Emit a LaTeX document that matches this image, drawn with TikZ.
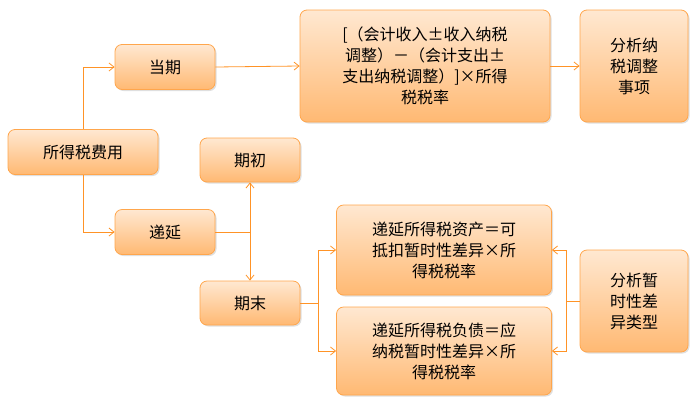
\documentclass[tikz,border=0pt]{standalone}
\usepackage{fontspec}
\newfontfamily\cjk{Noto Sans CJK SC}
\usetikzlibrary{arrows.meta,shadows}
\begin{document}
\begin{tikzpicture}[x=1pt,y=-1pt,
 box/.style={draw=orange!70!white,line width=0.8pt,rounded corners=7pt,top color=orange!18,bottom color=orange!55,
   drop shadow={shadow xshift=1.5pt,shadow yshift=-1.5pt,opacity=0.25},
   font=\cjk\fontsize{16}{21}\selectfont,align=center,inner sep=0pt},
 con/.style={draw=orange!85!white,line width=0.8pt},
 arr/.style={con,-{Straight Barb[length=5pt,width=8pt]}}]
\useasboundingbox (0,0) rectangle (700,405);
\node[box,minimum width=150,minimum height=45] (tax) at (83,152) {所得税费用};
\node[box,minimum width=100,minimum height=45] (cur) at (165,67) {当期};
\node[box,minimum width=100,minimum height=45] (def) at (165,232) {递延};
\node[box,minimum width=250,minimum height=112] (form) at (425,66) {[（会计收入±收入纳税\\调整）－（会计支出±\\支出纳税调整）]×所得\\税税率};
\node[box,minimum width=108,minimum height=112] (ana1) at (634,66) {分析纳\\税调整\\事项};
\node[box,minimum width=100,minimum height=44] (beg) at (250,160) {期初};
\node[box,minimum width=100,minimum height=44] (end) at (250,303) {期末};
\node[box,minimum width=215,minimum height=90] (dta) at (444,250) {递延所得税资产＝可\\抵扣暂时性差异×所\\得税税率};
\node[box,minimum width=215,minimum height=88] (dtl) at (444,351) {递延所得税负债＝应\\纳税暂时性差异×所\\得税税率};
\node[box,minimum width=108,minimum height=102] (ana2) at (634,301) {分析暂\\时性差\\异类型};
\draw[arr] (tax.north) |- (cur.west);
\draw[arr] (tax.south) |- (def.west);
\draw[arr] (cur.east) -- (form.west);
\draw[arr] (form.east) -- (ana1.west);
\coordinate (j1) at (250,232);
\draw[con] (def.east) -- (j1);
\draw[arr] (j1) -- (beg.south);
\draw[arr] (j1) -- (end.north);
\coordinate (j2) at (318,303);
\draw[con] (end.east) -- (j2);
\draw[arr] (j2) |- (dta.west);
\draw[arr] (j2) |- (dtl.west);
\coordinate (j3) at (566,301);
\draw[con] (ana2.west) -- (j3);
\draw[arr] (j3) |- (dta.east);
\draw[arr] (j3) |- (dtl.east);
\end{tikzpicture}
\end{document}
